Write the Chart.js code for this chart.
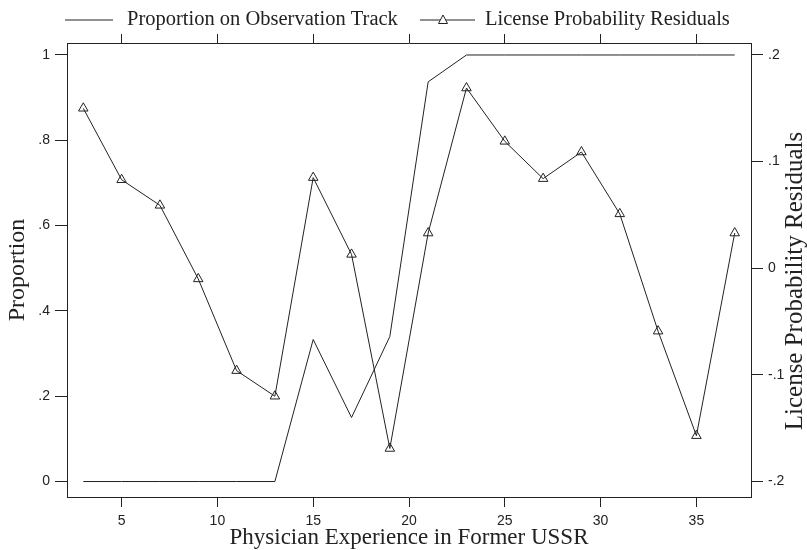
<!DOCTYPE html>
<html>
<head>
<meta charset="utf-8">
<script src="https://cdn.jsdelivr.net/npm/chart.js@4"></script>
<style>
  body { margin: 0; background: #fff; }
  #wrap { width: 807px; height: 550px; }
</style>
</head>
<body>
<div id="wrap"><canvas id="chart" width="807" height="550"></canvas></div>
<script>
// data
const experience = [3, 5, 7, 9, 11, 13, 15, 17, 19, 21, 23, 25, 27, 29, 31, 33, 35, 37];
const proportion = [0, 0, 0, 0, 0, 0, 0.333, 0.15, 0.34, 0.937, 1, 1, 1, 1, 1, 1, 1, 1];
const residuals = [0.150, 0.083, 0.059, -0.010, -0.096, -0.120, 0.085, 0.013, -0.169, 0.033,
                   0.169, 0.119, 0.084, 0.109, 0.051, -0.059, -0.157, 0.033];

const xTicks = [5, 10, 15, 20, 25, 30, 35];
const leftTicks = [0, 0.2, 0.4, 0.6, 0.8, 1];
const rightTicks = [-0.2, -0.1, 0, 0.1, 0.2];

const ink = '#222';
const serif = '"Liberation Serif", "Times New Roman", serif';
const sans = '"Liberation Sans", Arial, sans-serif';

// stata style: .2 instead of 0.2
function stataNum(v) {
    let s = String(Math.round(v * 100) / 100);
    return s.replace(/^0\./, '.').replace(/^-0\./, '-.');
}

function setTicks(list) {
    return scale => { scale.ticks = list.map(v => ({ value: v })); };
}

// legend and right title drawn by hand
const extras = {
    id: 'extras',
    afterDraw(chart) {
        const ctx = chart.ctx;
        ctx.save();
        ctx.strokeStyle = ink;
        ctx.fillStyle = ink;
        ctx.lineWidth = 1;
        ctx.font = '20.5px ' + serif;
        ctx.textBaseline = 'middle';
        ctx.textAlign = 'left';

        const ly = 20;
        ctx.beginPath();
        ctx.moveTo(65, ly); ctx.lineTo(113, ly);
        ctx.stroke();
        ctx.fillText('Proportion on Observation Track', 127, ly);

        ctx.beginPath();
        ctx.moveTo(420, ly); ctx.lineTo(475, ly);
        ctx.stroke();
        ctx.beginPath();
        ctx.moveTo(443, ly - 5); ctx.lineTo(447.5, ly + 3.5); ctx.lineTo(438.5, ly + 3.5);
        ctx.closePath();
        ctx.fillStyle = '#fff';
        ctx.fill();
        ctx.stroke();
        ctx.fillStyle = ink;
        ctx.fillText('License Probability Residuals', 485, ly);

        // right axis title, reading bottom to top
        ctx.font = '25px ' + serif;
        ctx.translate(795, 281);
        ctx.rotate(-Math.PI / 2);
        ctx.textAlign = 'center';
        ctx.fillText('License Probability Residuals', 0, 0);
        ctx.restore();
    }
};

const tickGrid = len => ({
    drawOnChartArea: false,
    drawTicks: true,
    tickLength: len,
    color: ink,
    lineWidth: 1
});

new Chart(document.getElementById('chart'), {
    type: 'line',
    data: {
        datasets: [
            {
                label: 'Proportion on Observation Track',
                data: experience.map((x, i) => ({ x: x, y: proportion[i] })),
                yAxisID: 'y',
                borderColor: ink,
                borderWidth: 1,
                pointRadius: 0,
                tension: 0
            },
            {
                label: 'License Probability Residuals',
                data: experience.map((x, i) => ({ x: x, y: residuals[i] })),
                yAxisID: 'y2',
                borderColor: ink,
                borderWidth: 1,
                pointStyle: 'triangle',
                pointRadius: 5.5,
                pointBorderWidth: 1,
                pointBorderColor: ink,
                pointBackgroundColor: 'rgba(0,0,0,0)',
                tension: 0
            }
        ]
    },
    options: {
        responsive: false,
        animation: false,
        layout: { padding: 0 },
        plugins: {
            legend: { display: false },
            tooltip: { enabled: false }
        },
        scales: {
            x: {
                type: 'linear',
                position: 'bottom',
                min: 2.15,
                max: 37.85,
                afterBuildTicks: setTicks(xTicks),
                afterFit: s => { s.height = 53; },
                grid: tickGrid(10),
                border: { display: true, color: ink, width: 1 },
                ticks: {
                    color: ink,
                    padding: 6,
                    maxRotation: 0,
                    font: { family: sans, size: 14 },
                    callback: v => stataNum(v)
                },
                title: {
                    display: true,
                    text: 'Physician Experience in Former USSR',
                    color: ink,
                    font: { family: serif, size: 23, lineHeight: 1 },
                    padding: { top: 0, bottom: 0.5 }
                }
            },
            x2: {
                type: 'linear',
                position: 'top',
                min: 2.15,
                max: 37.85,
                afterBuildTicks: setTicks(xTicks),
                afterFit: s => { s.height = 43; },
                grid: tickGrid(9),
                border: { display: true, color: ink, width: 1 },
                ticks: { display: false }
            },
            y: {
                type: 'linear',
                position: 'left',
                min: -0.0363,
                max: 1.0281,
                afterBuildTicks: setTicks(leftTicks),
                afterFit: s => { s.width = 67; },
                grid: tickGrid(12),
                border: { display: true, color: ink, width: 1 },
                ticks: {
                    color: ink,
                    padding: 5,
                    font: { family: sans, size: 14 },
                    callback: v => stataNum(v)
                },
                title: {
                    display: true,
                    text: 'Proportion',
                    color: ink,
                    font: { family: serif, size: 24, lineHeight: 1 },
                    padding: { top: 6, bottom: 0 }
                }
            },
            y2: {
                type: 'linear',
                position: 'right',
                min: -0.2145,
                max: 0.2112,
                afterBuildTicks: setTicks(rightTicks),
                afterFit: s => { s.width = 56; },
                grid: tickGrid(12),
                border: { display: true, color: ink, width: 1 },
                ticks: {
                    color: ink,
                    padding: 5,
                    font: { family: sans, size: 14 },
                    callback: v => stataNum(v)
                }
            }
        }
    },
    plugins: [extras]
});
</script>
</body>
</html>
